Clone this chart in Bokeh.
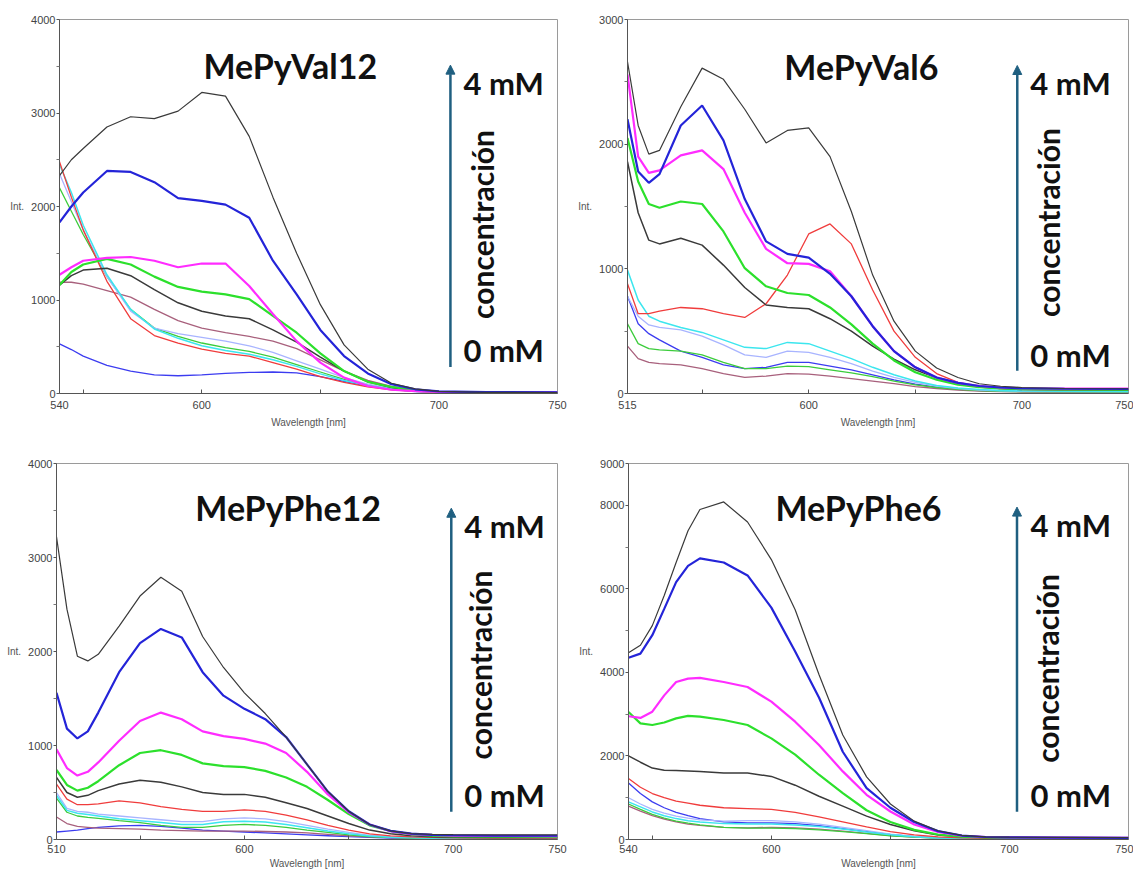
from bokeh.plotting import figure
from bokeh.models import Range1d, FixedTicker, Label, Arrow, NormalHead
from bokeh.layouts import row, column
from bokeh.embed import file_html
from bokeh.resources import INLINE

# ---------------- MePyVal12 ----------------
V12_WL = [540, 545, 550, 560, 570, 580, 590, 600, 610, 620, 630, 640, 650, 660, 670, 680, 690, 700, 720, 750]
V12_BLACK = [2330, 2500, 2620, 2850, 2960, 2940, 3020, 3220, 3180, 2750, 2100, 1500, 950, 520, 260, 110, 50, 22, 12, 10]
V12_BLUE = [1830, 2000, 2150, 2380, 2370, 2260, 2090, 2060, 2020, 1880, 1420, 1060, 680, 400, 215, 100, 45, 22, 15, 12]
V12_MAGENTA = [1270, 1350, 1420, 1450, 1460, 1420, 1350, 1390, 1390, 1150, 850, 560, 330, 170, 80, 40, 25, 18, 12, 12]
V12_GREEN = [1160, 1300, 1380, 1440, 1380, 1250, 1140, 1090, 1060, 1010, 830, 650, 430, 240, 125, 70, 35, 18, 12, 10]
V12_BLACK2 = [1160, 1260, 1320, 1340, 1260, 1110, 970, 880, 830, 800, 680, 550, 390, 240, 125, 65, 32, 18, 12, 10]
V12_RED = [2480, 2100, 1750, 1200, 800, 620, 540, 475, 430, 400, 330, 260, 180, 120, 70, 40, 22, 12, 8, 6]
V12_LIGHTBLUE = [2350, 2050, 1750, 1250, 880, 700, 640, 600, 560, 510, 440, 350, 260, 170, 100, 55, 28, 12, 8, 6]
V12_CYAN = [2450, 2150, 1800, 1270, 900, 690, 590, 510, 460, 420, 360, 290, 210, 140, 85, 45, 22, 10, 7, 6]
V12_GREENTHIN = [2200, 1950, 1700, 1250, 900, 700, 610, 540, 490, 450, 390, 310, 230, 150, 90, 50, 25, 12, 8, 6]
V12_MAUVE = [1190, 1190, 1170, 1100, 1030, 900, 780, 700, 650, 610, 560, 480, 360, 240, 140, 75, 35, 16, 10, 8]
V12_BLUETHIN = [530, 470, 400, 300, 240, 200, 190, 200, 215, 225, 230, 220, 180, 130, 80, 45, 22, 10, 5, 5]

# ---------------- MePyVal6 ----------------
V6_WL = [515, 520, 525, 530, 540, 550, 560, 570, 580, 590, 600, 610, 620, 630, 640, 650, 660, 670, 680, 690, 700, 720, 750]
V6_BLACK = [2660, 2150, 1920, 1950, 2300, 2610, 2520, 2280, 2010, 2110, 2130, 1900, 1460, 950, 580, 340, 205, 128, 78, 58, 48, 40, 38]
V6_BLUE = [2200, 1780, 1690, 1760, 2150, 2310, 2030, 1560, 1220, 1120, 1090, 960, 780, 540, 340, 210, 128, 85, 60, 48, 42, 38, 36]
V6_MAGENTA = [2560, 1900, 1770, 1790, 1910, 1950, 1800, 1450, 1160, 1045, 1040, 980, 780, 540, 340, 210, 128, 85, 60, 48, 42, 40, 40]
V6_GREEN = [2050, 1700, 1520, 1490, 1540, 1520, 1300, 1005, 860, 806, 790, 690, 555, 400, 265, 170, 110, 70, 50, 40, 35, 32, 30]
V6_BLACK2 = [1860, 1450, 1230, 1200, 1245, 1190, 1030, 850, 710, 690, 680, 600, 500, 380, 275, 190, 125, 80, 52, 40, 32, 30, 28]
V6_RED = [880, 640, 640, 660, 690, 680, 640, 610, 720, 950, 1280, 1360, 1200, 830, 500, 290, 160, 90, 55, 40, 34, 30, 28]
V6_LIGHTBLUE = [780, 620, 550, 530, 510, 460, 390, 310, 290, 340, 330, 290, 240, 180, 130, 90, 60, 40, 28, 22, 18, 16, 15]
V6_CYAN = [990, 750, 620, 580, 530, 490, 430, 370, 360, 410, 400, 340, 280, 210, 150, 100, 65, 45, 32, 25, 20, 18, 17]
V6_GREENTHIN = [560, 400, 360, 350, 340, 310, 250, 200, 200, 220, 215, 190, 165, 135, 100, 70, 48, 33, 24, 18, 15, 13, 12]
V6_MAUVE = [380, 280, 250, 240, 230, 200, 160, 130, 140, 160, 155, 140, 120, 100, 80, 55, 40, 28, 20, 15, 12, 10, 10]
V6_BLUETHIN = [780, 560, 480, 430, 340, 290, 230, 200, 210, 250, 250, 220, 190, 150, 110, 75, 50, 35, 25, 20, 17, 15, 14]

# ---------------- MePyPhe12 ----------------
F12_WL = [510, 515, 520, 525, 530, 540, 550, 560, 570, 580, 590, 600, 610, 620, 630, 640, 650, 660, 670, 680, 690, 700, 720, 750]
F12_BLACK = [3220, 2450, 1950, 1900, 1970, 2270, 2590, 2790, 2640, 2160, 1830, 1560, 1340, 1090, 800, 510, 300, 160, 92, 62, 54, 52, 50, 50]
F12_BLUE = [1560, 1180, 1075, 1150, 1350, 1780, 2090, 2240, 2150, 1780, 1530, 1390, 1280, 1090, 800, 510, 300, 160, 92, 62, 50, 45, 40, 40]
F12_MAGENTA = [960, 760, 680, 720, 820, 1050, 1260, 1350, 1280, 1150, 1100, 1070, 1020, 920, 720, 480, 290, 160, 88, 58, 48, 40, 38, 36]
F12_GREEN = [740, 580, 520, 550, 620, 790, 920, 950, 900, 810, 780, 770, 730, 660, 560, 420, 270, 150, 90, 55, 40, 32, 30, 28]
F12_BLACK2 = [660, 500, 450, 470, 520, 590, 630, 610, 560, 500, 480, 480, 450, 390, 330, 250, 170, 100, 60, 40, 30, 25, 22, 20]
F12_RED = [590, 430, 370, 370, 380, 410, 390, 350, 320, 300, 300, 315, 300, 260, 210, 150, 100, 60, 38, 27, 22, 18, 16, 15]
F12_LIGHTBLUE = [500, 330, 300, 290, 270, 250, 230, 210, 190, 190, 220, 230, 220, 190, 150, 110, 75, 45, 30, 22, 18, 15, 14, 13]
F12_CYAN = [470, 310, 280, 265, 250, 220, 200, 180, 160, 160, 190, 195, 185, 160, 125, 90, 60, 38, 25, 18, 14, 12, 11, 10]
F12_GREENTHIN = [440, 290, 250, 235, 225, 200, 180, 150, 130, 130, 150, 160, 150, 130, 100, 75, 50, 32, 22, 16, 12, 10, 9, 8]
F12_MAUVE = [240, 170, 140, 130, 120, 115, 110, 100, 95, 90, 90, 90, 85, 80, 70, 55, 40, 28, 20, 15, 12, 10, 9, 8]
F12_BLUETHIN = [80, 90, 100, 115, 130, 145, 150, 140, 120, 100, 90, 80, 70, 60, 50, 40, 30, 22, 16, 12, 10, 8, 7, 6]

# ---------------- MePyPhe6 ----------------
F6_WL = [540, 545, 550, 555, 560, 565, 570, 580, 590, 600, 610, 620, 630, 640, 650, 660, 670, 680, 690, 700, 720, 750]
F6_BLACK = [4470, 4650, 5120, 5840, 6630, 7390, 7900, 8080, 7600, 6700, 5500, 3950, 2500, 1500, 850, 440, 210, 100, 65, 55, 50, 45]
F6_BLUE = [4350, 4450, 4890, 5520, 6160, 6550, 6730, 6630, 6320, 5550, 4500, 3400, 2100, 1230, 760, 420, 200, 95, 60, 50, 45, 40]
F6_MAGENTA = [2950, 2910, 3060, 3450, 3770, 3850, 3870, 3770, 3650, 3300, 2820, 2260, 1630, 1070, 670, 360, 180, 90, 60, 50, 45, 40]
F6_GREEN = [3050, 2780, 2740, 2800, 2900, 2960, 2940, 2860, 2740, 2420, 2030, 1550, 1110, 700, 420, 230, 120, 70, 50, 40, 35, 32]
F6_BLACK2 = [2000, 1850, 1710, 1660, 1650, 1640, 1630, 1590, 1590, 1510, 1300, 1035, 800, 560, 360, 210, 110, 65, 45, 35, 30, 28]
F6_RED = [1460, 1250, 1100, 1000, 920, 870, 820, 760, 740, 720, 650, 540, 420, 300, 190, 110, 65, 40, 30, 25, 22, 20]
F6_LIGHTBLUE = [1000, 850, 720, 630, 560, 510, 470, 440, 450, 450, 420, 370, 290, 210, 130, 75, 42, 26, 18, 15, 13, 12]
F6_CYAN = [900, 780, 660, 570, 500, 450, 420, 380, 370, 370, 350, 310, 250, 180, 115, 65, 38, 23, 16, 13, 12, 11]
F6_GREENTHIN = [850, 720, 600, 510, 440, 390, 350, 290, 270, 270, 260, 230, 190, 140, 90, 55, 32, 20, 14, 11, 10, 9]
F6_MAUVE = [800, 680, 570, 490, 420, 370, 340, 290, 280, 290, 280, 250, 200, 145, 95, 55, 32, 20, 14, 11, 10, 9]
F6_BLUETHIN = [1350, 1100, 900, 760, 650, 570, 500, 420, 400, 400, 380, 330, 260, 190, 120, 70, 40, 25, 18, 15, 13, 12]

TITLES = ["MePyVal12", "MePyVal6", "MePyPhe12", "MePyPhe6"]
X_TICKS = [[540, 600, 700, 750], [515, 600, 700, 750], [510, 600, 700, 750], [540, 600, 700, 750]]
Y_TICKS = [[0, 1000, 2000, 3000, 4000], [0, 1000, 2000, 3000], [0, 1000, 2000, 3000, 4000],
           [0, 2000, 4000, 6000, 8000, 9000]]
Y_MINOR = [[500, 1500, 2500, 3500], [500, 1500, 2500], [500, 1500, 2500, 3500], [1000, 3000, 5000, 7000]]
X_MINOR = [550, 600, 650]
X_LABEL = "Wavelength [nm]"
Y_LABEL = "Int."
TOP_TEXT = "4 mM"
BOTTOM_TEXT = "0 mM"
SIDE_TEXT = "concentración"

# styles (order of series): black, blue, magenta, green, black2, red, lightblue, cyan, greenthin, mauve, bluethin
COLORS = ["#3a3a3a", "#2424d8", "#ff2cff", "#2ce02c", "#3a3a3a", "#f03c3c",
          "#a8b4ff", "#3ce6ee", "#3ccc3c", "#a8607c", "#3c3cf0"]
WIDTHS = [1.2, 2.2, 2.2, 2.2, 1.5, 1.3, 1.3, 1.5, 1.3, 1.3, 1.3]
DRAW_ORDER = [10, 9, 8, 6, 7, 5, 4, 3, 2, 1, 0]

DATA = [
    (V12_WL, [V12_BLACK, V12_BLUE, V12_MAGENTA, V12_GREEN, V12_BLACK2, V12_RED, V12_LIGHTBLUE, V12_CYAN,
              V12_GREENTHIN, V12_MAUVE, V12_BLUETHIN]),
    (V6_WL, [V6_BLACK, V6_BLUE, V6_MAGENTA, V6_GREEN, V6_BLACK2, V6_RED, V6_LIGHTBLUE, V6_CYAN,
             V6_GREENTHIN, V6_MAUVE, V6_BLUETHIN]),
    (F12_WL, [F12_BLACK, F12_BLUE, F12_MAGENTA, F12_GREEN, F12_BLACK2, F12_RED, F12_LIGHTBLUE, F12_CYAN,
              F12_GREENTHIN, F12_MAUVE, F12_BLUETHIN]),
    (F6_WL, [F6_BLACK, F6_BLUE, F6_MAGENTA, F6_GREEN, F6_BLACK2, F6_RED, F6_LIGHTBLUE, F6_CYAN,
             F6_GREENTHIN, F6_MAUVE, F6_BLUETHIN]),
]

# layout: width, height, min borders (left, top, right, bottom), tick-label standoff, axis-label standoff
LAYOUT = [
    (568, 448, 59, 19, 11, 51, 7, 5),
    (565, 448, 59, 19, 5, 55, 7, 5),
    (568, 423, 56, 14, 11, 32, 5, 2),
    (565, 423, 60, 15, 5, 32, 5, 2),
]
# annotation placement as fractions of the frame
# title(x,y), arrow x, arrow y0, y1, mM x, 4mM y, 0mM y, side(x,y)
PLACE = [
    (0.289, 0.877, 0.785, 0.071, 0.878, 0.811, 0.831, 0.116, 0.849, 0.452),
    (0.313, 0.874, 0.778, 0.061, 0.877, 0.804, 0.829, 0.104, 0.840, 0.457),
    (0.277, 0.884, 0.788, 0.074, 0.881, 0.814, 0.834, 0.119, 0.846, 0.464),
    (0.294, 0.884, 0.777, 0.074, 0.884, 0.804, 0.836, 0.119, 0.836, 0.455),
]

ARROW_C = "#1f5f80"
TXT_C = "#111111"
BIG_FONT = "Lato"
TICK_FONT = "Liberation Sans"

figs = []
for i in range(4):
    wl, series = DATA[i]
    W, H, bl, bt, br, bb, lso, aso = LAYOUT[i]
    x0, x1 = X_TICKS[i][0], X_TICKS[i][-1]
    y0, y1 = Y_TICKS[i][0], Y_TICKS[i][-1]
    p = figure(width=W, height=H, output_backend="svg", toolbar_location=None,
               x_range=Range1d(x0, x1), y_range=Range1d(y0, y1),
               min_border_left=bl, min_border_top=bt, min_border_right=br, min_border_bottom=bb)
    p.xgrid.visible = False
    p.ygrid.visible = False
    p.outline_line_color = "#9a9a9a"
    p.background_fill_color = "white"
    p.border_fill_color = "white"

    for k in DRAW_ORDER:
        p.line(wl, series[k], line_color=COLORS[k], line_width=WIDTHS[k])

    xa = p.xaxis[0]
    xa.ticker = FixedTicker(ticks=X_TICKS[i], minor_ticks=X_MINOR)
    xa.major_tick_in = 0
    xa.major_tick_out = 0
    xa.minor_tick_in = 4
    xa.minor_tick_out = 0
    xa.axis_line_color = "#555555"
    xa.minor_tick_line_color = "#555555"
    xa.major_label_text_font = TICK_FONT
    xa.major_label_text_font_size = "11px"
    xa.major_label_text_color = "#444444"
    xa.major_label_standoff = lso
    xa.axis_label = X_LABEL
    xa.axis_label_text_font = TICK_FONT
    xa.axis_label_text_font_size = "10px"
    xa.axis_label_text_font_style = "normal"
    xa.axis_label_text_color = "#555555"
    xa.axis_label_standoff = aso

    ya = p.yaxis[0]
    ya.ticker = FixedTicker(ticks=Y_TICKS[i], minor_ticks=Y_MINOR[i])
    ya.major_tick_in = 0
    ya.major_tick_out = 3
    ya.minor_tick_in = 0
    ya.minor_tick_out = 3
    ya.axis_line_color = "#555555"
    ya.major_tick_line_color = "#555555"
    ya.minor_tick_line_color = "#777777"
    ya.major_label_text_font = TICK_FONT
    ya.major_label_text_font_size = "11px"
    ya.major_label_text_color = "#444444"
    ya.major_label_standoff = 1
    ya.axis_label = Y_LABEL
    ya.axis_label_text_font = TICK_FONT
    ya.axis_label_text_font_size = "10px"
    ya.axis_label_text_font_style = "normal"
    ya.axis_label_text_color = "#555555"
    ya.axis_label_standoff = 4
    try:
        ya.axis_label_orientation = "horizontal"
    except Exception:
        pass

    fx = lambda f: x0 + f * (x1 - x0)
    fy = lambda f: y0 + f * (y1 - y0)
    tx, ty, ax, ay0, ay1, mx, my4, my0, sx, sy = PLACE[i]

    p.add_layout(Label(x=fx(tx), y=fy(ty), text=TITLES[i], text_align="left", text_baseline="middle",
                       text_font=BIG_FONT, text_font_style="bold", text_font_size="34px",
                       text_color=TXT_C))
    p.add_layout(Arrow(end=NormalHead(size=9, fill_color=ARROW_C, line_color=ARROW_C),
                       x_start=fx(ax), y_start=fy(ay0), x_end=fx(ax), y_end=fy(ay1),
                       line_color=ARROW_C, line_width=2.5))
    p.add_layout(Label(x=fx(mx), y=fy(my4), text=TOP_TEXT, text_align="left", text_baseline="middle",
                       text_font=BIG_FONT, text_font_style="bold", text_font_size="31px",
                       text_color=TXT_C))
    p.add_layout(Label(x=fx(mx), y=fy(my0), text=BOTTOM_TEXT, text_align="left", text_baseline="middle",
                       text_font=BIG_FONT, text_font_style="bold", text_font_size="31px",
                       text_color=TXT_C))
    p.add_layout(Label(x=fx(sx), y=fy(sy), text=SIDE_TEXT, angle=1.5707963, text_align="center",
                       text_baseline="middle", text_font=BIG_FONT, text_font_style="bold",
                       text_font_size="30px", text_color=TXT_C))
    figs.append(p)

layout = column(row(figs[0], figs[1]), row(figs[2], figs[3]))
open("out.html", "w").write(file_html(layout, INLINE))
